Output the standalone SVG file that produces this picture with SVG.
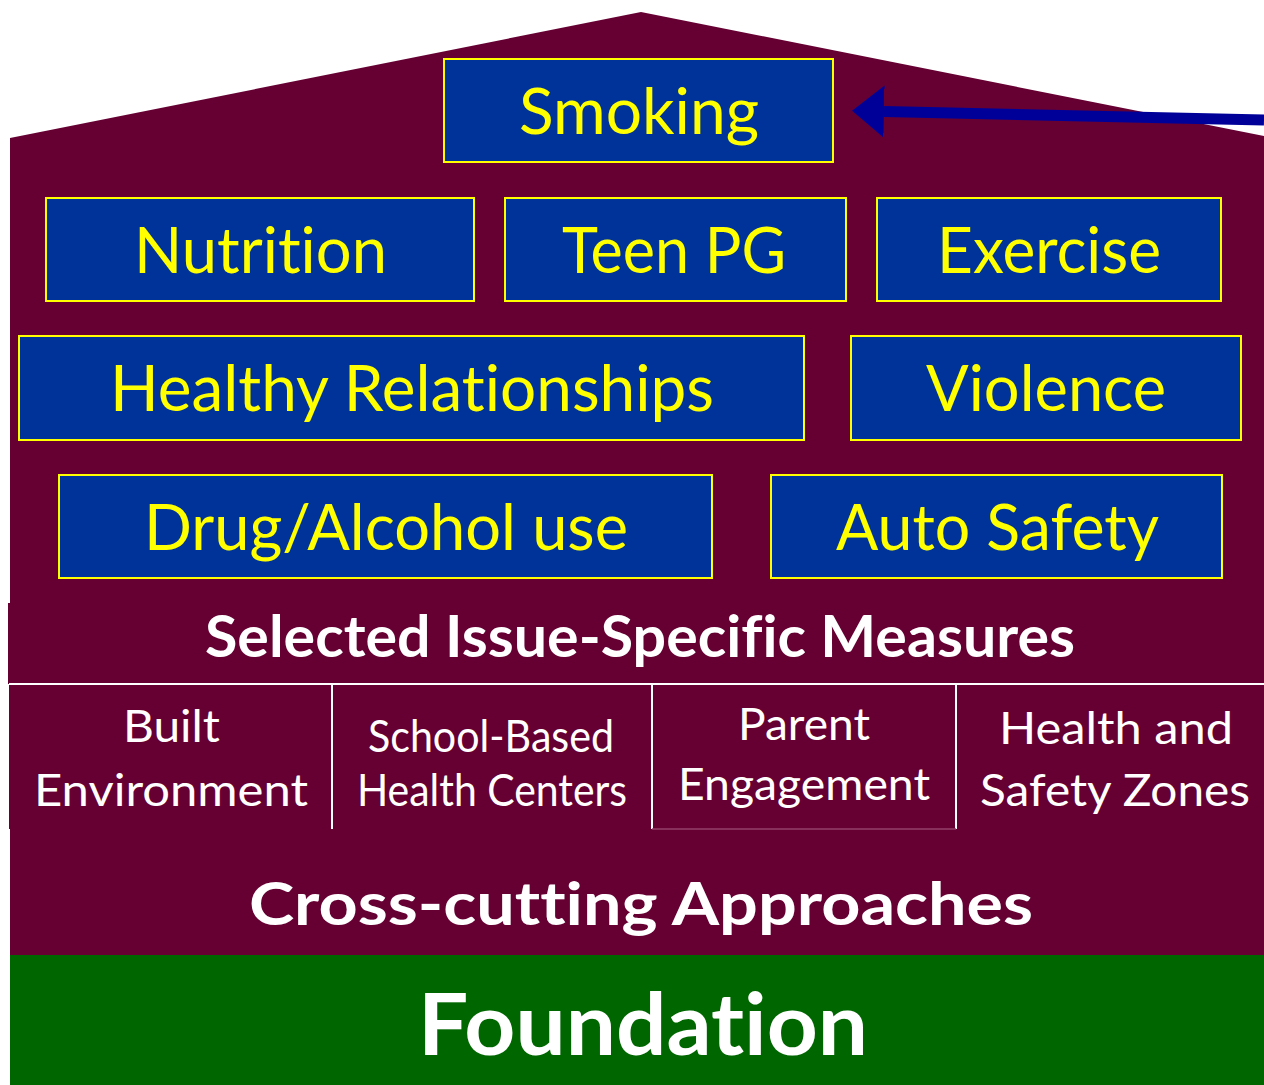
<svg xmlns="http://www.w3.org/2000/svg" width="1264" height="1085" viewBox="0 0 1264 1085">
  <defs>
    <style>
      text { font-variant-ligatures: none; font-feature-settings: "liga" 0, "clig" 0; }
      .issue rect { fill: #003399; stroke: #ffff00; stroke-width: 2; }
      .issue text { fill: #ffff00; font-family: Lato, "Open Sans", sans-serif; font-size: 64px; text-anchor: middle; }
      .band-title { fill: #ffffff; font-family: Lato, "Open Sans", sans-serif; font-weight: bold; text-anchor: middle; }
      .cell text { fill: #ffffff; font-family: Lato, "Open Sans", sans-serif; font-size: 44px; text-anchor: middle; }
      .divider { stroke: #ffffff; stroke-width: 2; fill: none; }
    </style>
    <marker id="arrowhead" markerUnits="userSpaceOnUse" viewBox="0 0 32 52" markerWidth="32" markerHeight="52" refX="0" refY="26" orient="auto">
      <path d="M0,0 L32,26 L0,52 z" fill="#000099"/>
    </marker>
  </defs>

  <!-- house body and roof -->
  <g id="house">
    <polygon points="10,138 641,12 1264,136 1264,955 10,955" fill="#660033"/>
    <rect x="8" y="603" width="1256" height="81" fill="#660033"/>
    <rect x="9" y="684" width="1255" height="145" fill="#660033"/>
  </g>

  <!-- issue boxes -->
  <g id="smoking" class="issue">
    <rect x="444" y="59" width="389" height="103"/>
    <text x="639" y="134" textLength="240" lengthAdjust="spacingAndGlyphs">Smoking</text>
  </g>
  <g id="nutrition" class="issue">
    <rect x="46" y="198" width="428" height="103"/>
    <text x="260.5" y="273" textLength="253" lengthAdjust="spacingAndGlyphs">Nutrition</text>
  </g>
  <g id="teen-pg" class="issue">
    <rect x="505" y="198" width="341" height="103"/>
    <text x="674" y="273" textLength="224" lengthAdjust="spacingAndGlyphs">Teen PG</text>
  </g>
  <g id="exercise" class="issue">
    <rect x="877" y="198" width="344" height="103"/>
    <text x="1049" y="273" textLength="224" lengthAdjust="spacingAndGlyphs">Exercise</text>
  </g>
  <g id="healthy-relationships" class="issue">
    <rect x="19" y="336" width="785" height="104"/>
    <text x="412" y="411" textLength="604" lengthAdjust="spacingAndGlyphs">Healthy Relationships</text>
  </g>
  <g id="violence" class="issue">
    <rect x="851" y="336" width="390" height="104"/>
    <text x="1046" y="411" textLength="240" lengthAdjust="spacingAndGlyphs">Violence</text>
  </g>
  <g id="drug-alcohol" class="issue">
    <rect x="59" y="475" width="653" height="103"/>
    <text x="386" y="550" textLength="484" lengthAdjust="spacingAndGlyphs">Drug/Alcohol use</text>
  </g>
  <g id="auto-safety" class="issue">
    <rect x="771" y="475" width="451" height="103"/>
    <text x="997.5" y="550" textLength="323" lengthAdjust="spacingAndGlyphs">Auto Safety</text>
  </g>

  <!-- issue-specific measures band -->
  <g id="selected-measures">
    <text class="band-title" x="640" y="657" font-size="58" textLength="870" lengthAdjust="spacingAndGlyphs">Selected Issue-Specific Measures</text>
  </g>

  <!-- cross-cutting approach cells -->
  <g id="cells-grid">
    <line class="divider" x1="9" y1="684" x2="1264" y2="684"/>
    <line class="divider" x1="332" y1="684" x2="332" y2="829"/>
    <line class="divider" x1="652" y1="684" x2="652" y2="829"/>
    <line class="divider" x1="956" y1="684" x2="956" y2="829"/>
    <line x1="652" y1="829" x2="956" y2="829" stroke="#94406a" stroke-width="1.5"/>
  </g>
  <g id="built-environment" class="cell">
    <text x="171.5" y="742" textLength="97" lengthAdjust="spacingAndGlyphs">Built</text>
    <text x="171" y="806" textLength="274" lengthAdjust="spacingAndGlyphs">Environment</text>
  </g>
  <g id="school-based" class="cell">
    <text x="491" y="752" font-size="38" textLength="246" lengthAdjust="spacingAndGlyphs">School-Based</text>
    <text x="492" y="806" font-size="38" textLength="270" lengthAdjust="spacingAndGlyphs">Health Centers</text>
  </g>
  <g id="parent-engagement" class="cell">
    <text x="804" y="740" textLength="132" lengthAdjust="spacingAndGlyphs">Parent</text>
    <text x="804" y="800" textLength="252" lengthAdjust="spacingAndGlyphs">Engagement</text>
  </g>
  <g id="health-safety-zones" class="cell">
    <text x="1116" y="744" textLength="234" lengthAdjust="spacingAndGlyphs">Health and</text>
    <text x="1115" y="806" textLength="270" lengthAdjust="spacingAndGlyphs">Safety Zones</text>
  </g>

  <!-- cross-cutting title -->
  <g id="cross-cutting">
    <text class="band-title" x="641" y="925" font-size="60" textLength="784" lengthAdjust="spacingAndGlyphs">Cross-cutting Approaches</text>
  </g>

  <!-- foundation -->
  <g id="foundation">
    <rect x="10" y="955" width="1254" height="130" fill="#006600"/>
    <text class="band-title" x="643" y="1055" font-size="86" textLength="450" lengthAdjust="spacingAndGlyphs">Foundation</text>
  </g>

  <!-- connectors -->
  <g id="connectors">
    <line x1="1264" y1="120" x2="884" y2="111.5" stroke="#000099" stroke-width="11" marker-end="url(#arrowhead)"/>
  </g>
</svg>
